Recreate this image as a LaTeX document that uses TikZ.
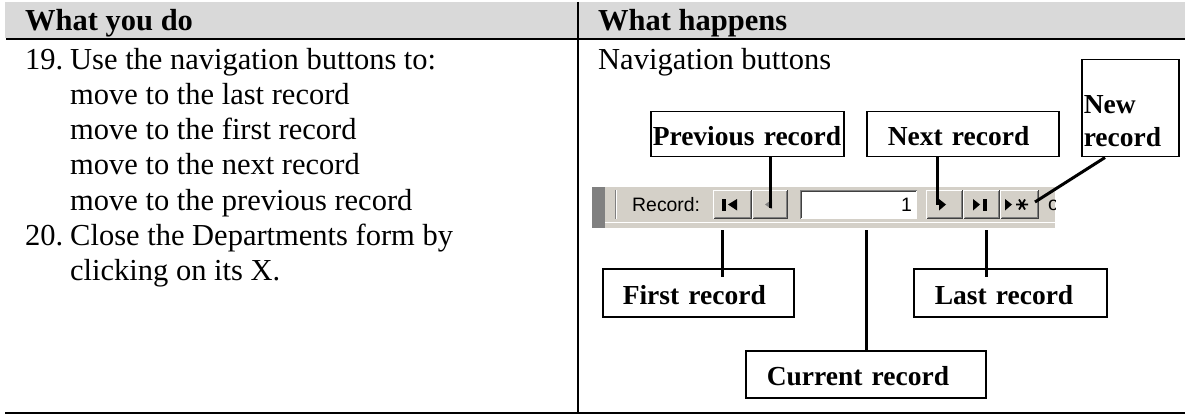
\documentclass[tikz,border=0pt]{standalone}
\usepackage{fontspec}
\setmainfont{Liberation Serif}
\newfontfamily\uisans{Liberation Sans}
\usetikzlibrary{calc}
\definecolor{hdrgray}{HTML}{D9D9D9}
\definecolor{tbgray}{HTML}{D4D0C8}
\definecolor{tbdark}{HTML}{808080}
\definecolor{tbshadow}{HTML}{404040}
\begin{document}
\begin{tikzpicture}[x=1pt,y=-1pt,
  bodytxt/.style={anchor=base west,inner sep=0pt,font=\fontsize{30.5}{37}\selectfont},
  headtxt/.style={anchor=base west,inner sep=0pt,font=\fontsize{30.5}{37}\selectfont\bfseries},
  lblbox/.style={draw,line width=1.5pt,anchor=north west,inner ysep=0pt,align=left,
    font=\fontsize{27.5}{33}\selectfont\bfseries,text height=23pt,text depth=0pt},
  conn/.style={line width=3pt},
  uitxt/.style={inner sep=0pt,font=\uisans\fontsize{19.4}{22}\selectfont}]
\useasboundingbox (0,0) rectangle (1185,414);
% table frame
\fill[hdrgray] (5,2) rectangle (1185,38);
\draw[line width=2.5pt] (6,39) -- (1185,39);
\draw[line width=1.5pt] (578,2) -- (578,412);
\draw[line width=2pt] (5,412.5) -- (1185,412.5);
% header
\node[headtxt] (h1) at (25,31) {What you do};
\node[headtxt] (h2) at (598,31) {What happens};
% left column
\node[bodytxt] (n19) at (25,70) {19.};
\node[bodytxt] (t1) at (70,70) {Use the navigation buttons to:};
\node[bodytxt] (t2) at (70,105) {move to the last record};
\node[bodytxt] (t3) at (70,140) {move to the first record};
\node[bodytxt] (t4) at (70,175) {move to the next record};
\node[bodytxt] (t5) at (70,210) {move to the previous record};
\node[bodytxt] (n20) at (25,245) {20.};
\node[bodytxt] (t6) at (70,245) {Close the Departments form by};
\node[bodytxt] (t7) at (70,280) {clicking on its X.};
% right column
\node[bodytxt] (nav) at (598,70) {Navigation buttons};
% toolbar
\fill[tbgray] (592,187) rectangle (1055,228);
\fill[tbdark] (592,187) rectangle (605,228);
\draw[white,line width=1.5pt] (605,222.5) -- (1055,222.5);
\draw[tbdark,line width=1pt] (615.5,190) -- (615.5,219);
\draw[white,line width=1pt] (616.5,190) -- (616.5,219);
\node[uitxt,anchor=west] (reclbl) at (632,205) {Record:};
\foreach \a/\b/\n in {713/752/bfirst,752/788/bprev,926/963/bnext,963/1000/blast,1000/1039/bnew}{
  \fill[tbgray] (\a,190) rectangle (\b,219);
  \draw[white,line width=1pt] (\a+0.5,218.5) -- (\a+0.5,190.5) -- (\b-1,190.5);
  \draw[tbshadow,line width=1pt] (\a+0.5,218.5) -- (\b-0.5,218.5) -- (\b-0.5,190);
  \draw[tbdark,line width=1pt] (\a+1.5,217.5) -- (\b-1.5,217.5) -- (\b-1.5,191.5);
  \coordinate (\n) at ({(\a+\b)/2},204.5);
}
% text box
\fill[white] (800,190) rectangle (917,219);
\draw[tbdark,line width=1pt] (800.5,219) -- (800.5,190.5) -- (917,190.5);
\draw[tbshadow,line width=1pt] (801.5,218) -- (801.5,191.5) -- (916,191.5);
\node[uitxt,anchor=east] (curval) at (912,205) {1};
% glyphs
\fill (722,199) rectangle (726,210.5);
\fill (728,204.5) -- (737,199) -- (737,210.5) -- cycle;
\fill[tbdark] (765,204.5) -- (772,199.5) -- (772,209.5) -- cycle;
\fill (939,199) -- (939,210.5) -- (946,204.5) -- cycle;
\fill (973,199) -- (973,210.5) -- (980,204.5) -- cycle;
\fill (983,199) rectangle (987,210.5);
\fill (1005,199) -- (1005,210.5) -- (1012,204.5) -- cycle;
\draw[line width=1.8pt] (1016,204.5) -- (1028,204.5) (1019,199.5) -- (1025,209.5) (1025,199.5) -- (1019,209.5);
\begin{scope}
  \clip (592,187) rectangle (1055,228);
  \node[uitxt,anchor=west] (ofpart) at (1048,205) {o};
\end{scope}
% label boxes
\node[lblbox,inner xsep=2pt,text width=189pt,minimum height=45pt] (prev) at (650,111) {Previous record};
\node[lblbox,inner xsep=21pt,text width=150pt,minimum height=45pt] (next) at (866,111) {Next record};
\node[draw,line width=1.5pt,anchor=north west,inner xsep=2pt,inner ysep=0pt,align=left,
  text width=93pt,minimum height=97pt,text depth=8pt,font=\fontsize{27.5}{33}\selectfont\bfseries] (newrec) at (1081,59) {New\\record};
\node[lblbox,inner xsep=20pt,text width=151pt,minimum height=48pt] (first) at (602,268) {First record};
\node[lblbox,inner xsep=21pt,text width=151pt,minimum height=48pt] (last) at (913,268) {Last record};
\node[lblbox,inner xsep=21pt,text width=198pt,minimum height=47pt] (curr) at (745,350) {Current record};
% connector targets
\coordinate (pprev) at (770,208);
\coordinate (pnext) at (937,205);
\coordinate (pnew) at (1035,202);
\coordinate (pfirst) at (722,230);
\coordinate (pcurr) at (866,230);
\coordinate (plast) at (986,230);
% connectors
\draw[conn] (prev.south -| pprev) -- (pprev);
\draw[conn] (next.south -| pnext) -- (pnext);
\draw[conn] ($(newrec.south west)+(24,0)$) -- (pnew);
\draw[conn] (pfirst) -- ($(pfirst |- first.north)+(0,9)$);
\draw[conn] (pcurr) -- (pcurr |- curr.north);
\draw[conn] (plast) -- ($(plast |- last.north)+(0,9)$);
\end{tikzpicture}
\end{document}
